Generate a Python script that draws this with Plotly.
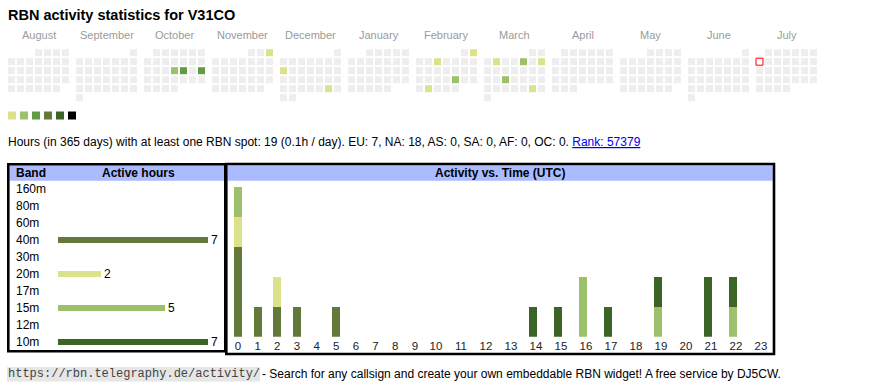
import datetime as dt
import calendar
import plotly.graph_objects as go

W, H = 870, 390
FONT = "Liberation Sans, Arial, Helvetica, sans-serif"
MONO = "Liberation Mono, Courier New, monospace"

# ---------------- data ----------------
CALLSIGN = "V31CO"
MONTH_NAMES = ["August", "September", "October", "November", "December", "January",
               "February", "March", "April", "May", "June", "July"]
FIRST_YEAR, FIRST_MONTH = 2024, 8
TODAY = "2025-07-07"

ACTIVE_DATES = ["2024-10-17", "2024-10-18", "2024-10-20", "2024-11-03", "2024-12-09",
                "2024-12-28", "2025-02-02", "2025-02-05", "2025-02-21", "2025-02-25",
                "2025-03-04", "2025-03-07", "2025-03-09", "2025-03-19", "2025-03-29"]
ACTIVE_LEVELS = [2, 3, 3, 1, 1, 1, 1, 1, 2, 1, 1, 2, 1, 2, 1]
LEVEL_COLORS = ["#dce28c", "#9dc06a", "#629b43", "#637939", "#3b6427", "#000000"]
EMPTY_COLOR = "#eeeeee"

DAYS = 365
TOTAL_HOURS = 19
PER_DAY = 0.1
CONTINENTS = ["EU", "NA", "AS", "SA", "AF", "OC"]
CONTINENT_HOURS = [7, 18, 0, 0, 0, 0]
RANK = 57379

BANDS = ["160m", "80m", "60m", "40m", "30m", "20m", "17m", "15m", "12m", "10m"]
BAND_HOURS = [0, 0, 0, 7, 0, 2, 0, 5, 0, 7]
BAND_COLORS = ["#999999", "#999999", "#999999", "#637939", "#999999",
               "#dce28c", "#999999", "#9dc06a", "#999999", "#3b6427"]

HOURS = [str(h) for h in range(24)]
HOURLY_40M = [3, 1, 1, 1, 0, 1, 0, 0, 0, 0, 0, 0, 0, 0, 0, 0, 0, 0, 0, 0, 0, 0, 0, 0]
HOURLY_20M = [1, 0, 1, 0, 0, 0, 0, 0, 0, 0, 0, 0, 0, 0, 0, 0, 0, 0, 0, 0, 0, 0, 0, 0]
HOURLY_15M = [1, 0, 0, 0, 0, 0, 0, 0, 0, 0, 0, 0, 0, 0, 0, 0, 2, 0, 0, 1, 0, 0, 1, 0]
HOURLY_10M = [0, 0, 0, 0, 0, 0, 0, 0, 0, 0, 0, 0, 0, 0, 1, 1, 0, 1, 0, 1, 0, 2, 1, 0]
HOURLY_BANDS = ["40m", "20m", "15m", "10m"]
HOURLY_SERIES = [HOURLY_40M, HOURLY_20M, HOURLY_15M, HOURLY_10M]

# ---------------- layout constants (pixels) ----------------
CAL_X0, CAL_Y0 = 11.5, 52.7
CELL, CELL_STRIDE, MONTH_STRIDE = 7, 9, 68


def px_x(v):
    return v / W


def px_y(v):
    return 1 - v / H


fig = go.Figure()

# ---------------- calendar ----------------
active = {dt.date.fromisoformat(d): lv for d, lv in zip(ACTIVE_DATES, ACTIVE_LEVELS)}
today = dt.date.fromisoformat(TODAY)
cx, cy, cc, tx, ty = [], [], [], [], []
y, m = FIRST_YEAR, FIRST_MONTH
month_centers = []
for i in range(len(MONTH_NAMES)):
    first_wd, ndays = calendar.monthrange(y, m)
    month_centers.append(CAL_X0 + i * MONTH_STRIDE + 3 * CELL_STRIDE)
    for d in range(1, ndays + 1):
        k = first_wd + d - 1
        xx = CAL_X0 + i * MONTH_STRIDE + (k % 7) * CELL_STRIDE
        yy = CAL_Y0 + (k // 7) * CELL_STRIDE
        date = dt.date(y, m, d)
        if date == today:
            tx.append(xx)
            ty.append(yy)
            continue
        cx.append(xx)
        cy.append(yy)
        lv = active.get(date, 0)
        cc.append(LEVEL_COLORS[lv - 1] if lv else EMPTY_COLOR)
    m += 1
    if m > 12:
        m, y = 1, y + 1

fig.add_trace(go.Scatter(x=cx, y=cy, mode="markers", xaxis="x", yaxis="y",
                         marker=dict(symbol="square", size=CELL, color=cc, line=dict(width=0)),
                         hoverinfo="skip", showlegend=False))
fig.add_trace(go.Scatter(x=tx, y=ty, mode="markers", xaxis="x", yaxis="y",
                         marker=dict(symbol="square", size=CELL, color="#ffffff",
                                     line=dict(width=1, color="#ff0000")),
                         hoverinfo="skip", showlegend=False))

# legend squares
fig.add_trace(go.Scatter(x=[12 + 12 * i for i in range(len(LEVEL_COLORS))],
                         y=[115.5] * len(LEVEL_COLORS), mode="markers", xaxis="x", yaxis="y",
                         marker=dict(symbol="square", size=8, color=LEVEL_COLORS, line=dict(width=0)),
                         hoverinfo="skip", showlegend=False))

# ---------------- band table ----------------
fig.add_trace(go.Bar(x=BAND_HOURS, y=BANDS, orientation="h", xaxis="x2", yaxis="y2",
                     marker=dict(color=BAND_COLORS, line=dict(width=0)), width=6 / 17,
                     hoverinfo="skip", showlegend=False))

# ---------------- activity vs time ----------------
for band, series in zip(HOURLY_BANDS, HOURLY_SERIES):
    col = BAND_COLORS[BANDS.index(band)]
    fig.add_trace(go.Bar(x=HOURS[:10], y=series[:10], xaxis="x3", yaxis="y3",
                         marker=dict(color=col, line=dict(width=0)), width=8 / 19.65,
                         hoverinfo="skip", showlegend=False))
    fig.add_trace(go.Bar(x=HOURS[10:], y=series[10:], xaxis="x4", yaxis="y3",
                         marker=dict(color=col, line=dict(width=0)), width=8 / 25,
                         hoverinfo="skip", showlegend=False))

# ---------------- shapes (boxes) ----------------
shapes = [
    dict(type="rect", xref="paper", yref="paper", x0=px_x(9.5), x1=px_x(224), y0=px_y(165.3), y1=px_y(180.7),
         fillcolor="#aabbff", line=dict(width=0), layer="below"),
    dict(type="rect", xref="paper", yref="paper", x0=px_x(227.6), x1=px_x(772.7), y0=px_y(165.3), y1=px_y(180.7),
         fillcolor="#aabbff", line=dict(width=0), layer="below"),
    dict(type="rect", xref="paper", yref="paper", x0=px_x(8.3), x1=px_x(225.3), y0=px_y(164.3), y1=px_y(351.3),
         line=dict(width=2.6, color="#000000")),
    dict(type="rect", xref="paper", yref="paper", x0=px_x(226.3), x1=px_x(774), y0=px_y(164), y1=px_y(354),
         line=dict(width=2.6, color="#000000")),
    dict(type="rect", xref="paper", yref="paper", x0=px_x(7), x1=px_x(260), y0=px_y(367), y1=px_y(381.5),
         fillcolor="#e6e6e6", line=dict(width=0), layer="below"),
]

# ---------------- annotations ----------------
ann = []


def text(x, y, s, size=12, color="#000000", bold=False, xanchor="left", family=FONT, **kw):
    ann.append(dict(x=px_x(x), y=px_y(y), xref="paper", yref="paper", text=("<b>%s</b>" % s) if bold else s,
                    showarrow=False, xanchor=xanchor, yanchor="middle", borderpad=0, borderwidth=0,
                    font=dict(size=size, color=color, family=family), **kw))


text(8, 15.5, "RBN activity statistics for " + CALLSIGN, size=14.5, bold=True)
for name, c in zip(MONTH_NAMES, month_centers):
    text(c, 35, name, size=11, color="#9a9a9a", xanchor="center")

cont = ", ".join("%s: %d" % (c, v) for c, v in zip(CONTINENTS, CONTINENT_HOURS))
info = ("Hours (in %d days) with at least one RBN spot: %d (%sh / day). %s. "
        "<a href='https://rbn.telegraphy.de/activity/%s'><span style='color:#0000ee;text-decoration:underline'>"
        "Rank: %d</span></a>" % (DAYS, TOTAL_HOURS, PER_DAY, cont, CALLSIGN, RANK))
text(8, 141.5, info)

text(16, 173, "Band", bold=True)
text(138, 173, "Active hours", bold=True, xanchor="center")
text(500, 173, "Activity vs. Time (UTC)", bold=True, xanchor="center")

for b, v in zip(BANDS, BAND_HOURS):
    ann.append(dict(x=px_x(16), xref="paper", y=b, yref="y2", text=b, showarrow=False,
                    xanchor="left", yanchor="middle", borderpad=0, borderwidth=0,
                    font=dict(size=12, color="#000000", family=FONT)))
    if v:
        ann.append(dict(x=v, xref="x2", y=b, yref="y2", text=str(v), showarrow=False,
                        xanchor="left", yanchor="middle", borderpad=0, borderwidth=0, xshift=3,
                        font=dict(size=12, color="#000000", family=FONT)))

text(8, 374, "https://rbn.telegraphy.de/activity/", size=12, color="#444444", family=MONO)
text(262, 374, "- Search for any callsign and create your own embeddable RBN widget! A free service by DJ5CW.")

fig.update_layout(
    width=W, height=H, margin=dict(l=0, r=0, t=0, b=0),
    paper_bgcolor="#ffffff", plot_bgcolor="rgba(0,0,0,0)",
    barmode="stack", bargap=0, showlegend=False,
    font=dict(family=FONT, size=11, color="#000000"),
    shapes=shapes, annotations=ann,
    xaxis=dict(domain=[0, 1], range=[0, W], visible=False, fixedrange=True),
    yaxis=dict(domain=[0, 1], range=[H, 0], visible=False, fixedrange=True),
    xaxis2=dict(domain=[px_x(58), px_x(208)], range=[0, 7], visible=False, anchor="y2"),
    yaxis2=dict(domain=[px_y(350.8), px_y(180.8)], type="category", categoryarray=BANDS,
                categoryorder="array", range=[len(BANDS) - 0.5, -0.5], visible=False, anchor="x2"),
    xaxis3=dict(domain=[px_x(238 - 0.5 * 19.65), px_x(238 + 9.5 * 19.65)], type="category",
                categoryorder="array", categoryarray=HOURS[:10], range=[-0.5, 9.5], anchor="y3",
                showgrid=False, zeroline=False, showline=False, ticks="",
                tickfont=dict(size=11.5, color="#222222", family=FONT), ticklabelstandoff=1),
    xaxis4=dict(domain=[px_x(433 - 12.5), px_x(433 + 13.5 * 25)], type="category",
                categoryorder="array", categoryarray=HOURS[10:], range=[-0.5, 13.5], anchor="y3",
                showgrid=False, zeroline=False, showline=False, ticks="",
                tickfont=dict(size=11.5, color="#222222", family=FONT), ticklabelstandoff=1,
                ticklabelshift=3),
    yaxis3=dict(domain=[px_y(336.7), px_y(186.7)], range=[0, 5], visible=False, anchor="x3"),
)

fig.write_html("out.html", include_plotlyjs=True, config={"displayModeBar": False, "staticPlot": True},
               post_script="document.body.style.margin='0px';")
